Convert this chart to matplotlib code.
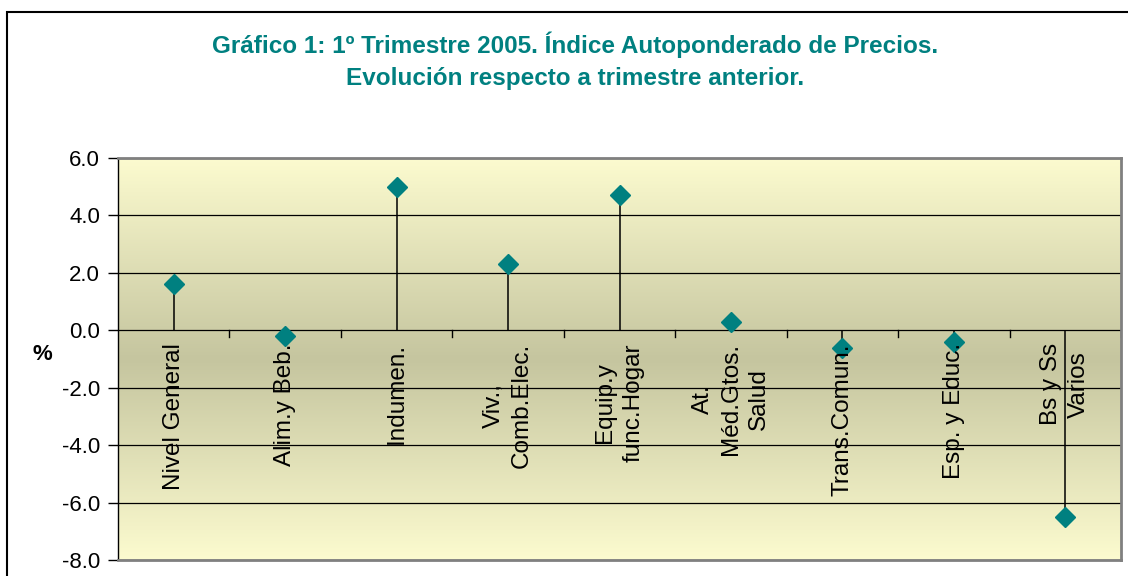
import numpy as np
import matplotlib.pyplot as plt
from matplotlib.colors import LinearSegmentedColormap
from matplotlib.patches import Rectangle

plt.rcParams['font.family'] = ['Liberation Sans', 'DejaVu Sans']

categorias = ['Nivel General', 'Alim.y Beb.', 'Indumen.', 'Viv.,\nComb.Elec.',
              'Equip.y\nfunc.Hogar', 'At.\nMéd.Gtos.\nSalud', 'Trans.Comun.',
              'Esp. y Educ.', 'Bs y Ss\nVarios']
variacion = [1.6, -0.2, 5.0, 2.3, 4.7, 0.3, -0.6, -0.4, -6.5]
yticks = [-8.0, -6.0, -4.0, -2.0, 0.0, 2.0, 4.0, 6.0]

teal = '#008080'

fig = plt.figure(figsize=(11.28, 5.76), dpi=100)
fig.patch.set_facecolor('white')

# borde del area del grafico
fig.patches.append(Rectangle((7 / 1128, -0.1), 1.2, 1.1 - 12 / 576,
                             transform=fig.transFigure, fill=False,
                             edgecolor='black', linewidth=1.5))

ax = fig.add_axes([118 / 1128, 1 - 560 / 576, (1121 - 118) / 1128, (560 - 158) / 576])

x = np.arange(len(categorias))
ax.set_xlim(-0.5, len(categorias) - 0.5)
ax.set_ylim(-8, 6)

# fondo degradado
cmap = LinearSegmentedColormap.from_list('fondo', ['#fcfbcf', '#c5c59f', '#fcfbcf'])
grad = np.linspace(0, 1, 256).reshape(-1, 1)
ax.imshow(grad, cmap=cmap, aspect='auto', extent=(-0.5, len(categorias) - 0.5, -8, 6),
          zorder=0, interpolation='bicubic')

for y in yticks:
    ax.axhline(y, color='black', linewidth=0.9, zorder=1)

ax.vlines(x, 0, variacion, color='black', linewidth=1.1, zorder=2)
ax.plot(x, variacion, linestyle='none', marker='D', markersize=10,
        color=teal, markeredgecolor=teal, zorder=3)

ax.set_yticks(yticks)
ax.set_yticklabels(['%.1f' % v for v in yticks], fontsize=16)
ax.tick_params(axis='y', direction='out', length=7, width=1, pad=6)

# marcas del eje x sobre la linea cero
ax.set_xticks([])
for b in np.arange(0.5, len(categorias), 1.0):
    ax.plot([b, b], [0, -0.25], color='black', linewidth=1, zorder=2)

for xi, lab in zip(x, categorias):
    ax.text(xi, -0.45, lab, rotation=90, ha='center', va='top',
            multialignment='center', fontsize=17.5, linespacing=1.36, zorder=4)

for s in ['top', 'right', 'bottom']:
    ax.spines[s].set_color('#808080')
    ax.spines[s].set_linewidth(2)
ax.spines['left'].set_color('black')
ax.spines['left'].set_linewidth(1)

fig.text(42 / 1128, 1 - 355 / 576, '%', fontsize=16, fontweight='bold',
         ha='center', va='center')

fig.text(575 / 1128, 1 - 45 / 576,
         'Gráfico 1: 1º Trimestre 2005. Índice Autoponderado de Precios.',
         color=teal, fontsize=17.5, fontweight='bold', ha='center', va='center')
fig.text(575 / 1128, 1 - 78 / 576, 'Evolución respecto a trimestre anterior.',
         color=teal, fontsize=17.5, fontweight='bold', ha='center', va='center')

fig.savefig('out.png', dpi=100)
